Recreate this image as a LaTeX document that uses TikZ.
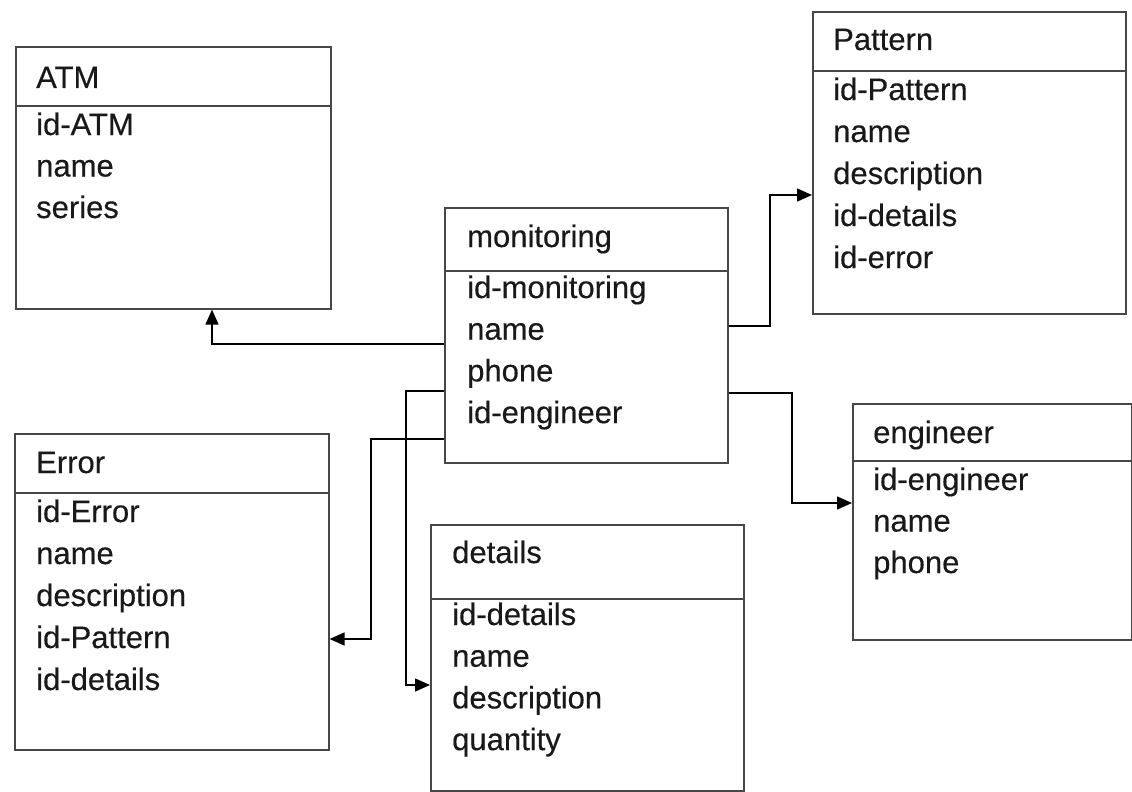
\documentclass[tikz,border=0pt]{standalone}
\usepackage{fontspec}
\setmainfont{Liberation Sans}[FakeBold=0.35]
\usetikzlibrary{arrows.meta}
\tikzset{
  boxframe/.style={draw=black!72, line width=1.6pt, rectangle, inner sep=0pt, anchor=north west},
  sepline/.style={draw=black!72, line width=1.6pt},
  label/.style={anchor=base west, inner sep=0pt, text=black!90, font=\fontsize{31}{36}\selectfont},
  conn/.style={draw=black, line width=1.5pt, -{Triangle[length=15pt,width=13pt]}}
}
\begin{document}
\begin{tikzpicture}[x=1pt,y=-1pt]
\fill[white] (0,0) rectangle (1132,792);
\useasboundingbox (0,0) rectangle (1132,792);

% ATM
\node[boxframe, minimum width=315pt, minimum height=262pt] (atm) at (15,46) {};
\draw[sepline] (atm.west |- 0,106) -- (atm.east |- 0,106);
\node[label] (atm-t) at (36,88) {ATM};
\foreach \t [count=\i] in {id-ATM,name,series}
  \node[label] (atm-\i) at (36,{135+41.5*(\i-1)}) {\t};

% Pattern
\node[boxframe, minimum width=313pt, minimum height=302pt] (pat) at (812,11) {};
\draw[sepline] (pat.west |- 0,71) -- (pat.east |- 0,71);
\node[label] (pat-t) at (833,50) {Pattern};
\foreach \t [count=\i] in {id-Pattern,name,description,id-details,id-error}
  \node[label] (pat-\i) at (833,{100+42*(\i-1)}) {\t};

% monitoring
\node[boxframe, minimum width=283pt, minimum height=255pt] (mon) at (444,207) {};
\draw[sepline] (mon.west |- 0,271) -- (mon.east |- 0,271);
\node[label] (mon-t) at (467,247) {monitoring};
\foreach \t [count=\i] in {id-monitoring,name,phone,id-engineer}
  \node[label] (mon-\i) at (467,{298+41.7*(\i-1)}) {\t};

% Error
\node[boxframe, minimum width=314pt, minimum height=316pt] (err) at (14,433) {};
\draw[sepline] (err.west |- 0,493) -- (err.east |- 0,493);
\node[label] (err-t) at (36,473) {Error};
\foreach \t [count=\i] in {id-Error,name,description,id-Pattern,id-details}
  \node[label] (err-\i) at (36,{522+42*(\i-1)}) {\t};

% details
\node[boxframe, minimum width=313pt, minimum height=266pt] (det) at (430,524) {};
\draw[sepline] (det.west |- 0,599) -- (det.east |- 0,599);
\node[label] (det-t) at (452,563) {details};
\foreach \t [count=\i] in {id-details,name,description,quantity}
  \node[label] (det-\i) at (452,{625+41.7*(\i-1)}) {\t};

% engineer
\node[boxframe, minimum width=279pt, minimum height=236pt] (eng) at (852,403) {};
\draw[sepline] (eng.west |- 0,461) -- (eng.east |- 0,461);
\node[label] (eng-t) at (873,443) {engineer};
\foreach \t [count=\i] in {id-engineer,name,phone}
  \node[label] (eng-\i) at (873,{490+41.5*(\i-1)}) {\t};

% links from monitoring
\draw[conn] (mon.west |- 0,344) -| (atm.south -| 212,0);
\draw[conn] (mon.east |- 0,326) -- (770,326) |- (pat.west |- 0,195);
\draw[conn] (mon.east |- 0,393) -- (792,393) |- (eng.west |- 0,503);
\draw[conn] (mon.west |- 0,391) -- (406,391) |- (det.west |- 0,685);
\draw[conn] (mon.west |- 0,439) -- (371,439) |- (err.east |- 0,639);
\end{tikzpicture}
\end{document}
